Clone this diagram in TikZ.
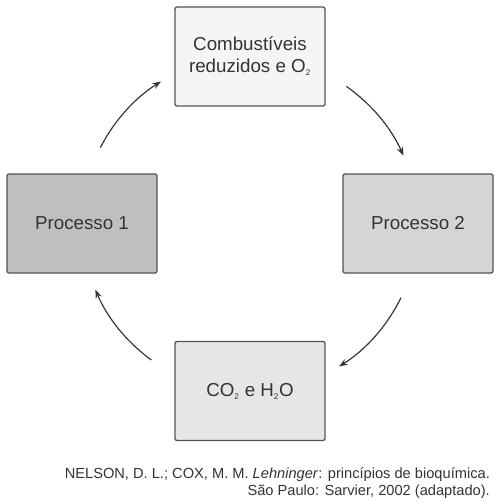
\documentclass[tikz,border=0pt]{standalone}
\usepackage{fontspec}
\setmainfont{Liberation Sans}
\usepackage{tikz}
\usetikzlibrary{arrows.meta}
\definecolor{boxline}{HTML}{555555}
\definecolor{inktext}{HTML}{333333}
\newcommand{\chsub}[1]{\textsubscript{\fontsize{7}{7}\selectfont#1}}

\begin{document}
\begin{tikzpicture}[x=0.3mm,y=0.3mm,
  stage/.style={draw=boxline,line width=0.4mm,rounded corners=0.6mm,minimum width=45mm,minimum height=29.7mm,inner sep=0pt,align=center,text=inktext,font=\fontsize{16}{18.7}\selectfont},
  cyclearrow/.style={-{Stealth[length=2.6mm,width=1.9mm]},line width=0.35mm,draw=inktext}]
\useasboundingbox (0,0) rectangle (500,503);

\node [stage,fill={rgb,255:red,244;green,245;blue,247}] (fuel) at (250,446.5) {Combustíveis\\reduzidos e O\chsub{2}};
\node [stage,fill={rgb,255:red,190;green,191;blue,193}] (proc1) at (82,279.5) {Processo 1};
\node [stage,fill={rgb,255:red,212;green,213;blue,214}] (proc2) at (418,279.5) {Processo 2};
\node [stage,fill={rgb,255:red,229;green,230;blue,231}] (waste) at (250,112) {CO\chsub{2} e H\chsub{2}O};

\coordinate (hub) at (250,279);
\draw [cyclearrow] ([shift={(153:168)}]hub) arc [radius=168, start angle=153, end angle=122];
\draw [cyclearrow] ([shift={(55:168)}]hub) arc [radius=168, start angle=55, end angle=24];
\draw [cyclearrow] ([shift={(-26:168)}]hub) arc [radius=168, start angle=-26, end angle=-58];
\draw [cyclearrow] ([shift={(234:168)}]hub) arc [radius=168, start angle=234, end angle=203];

\node [anchor=east,align=right,text=inktext,font=\fontsize{12.5}{14.6}\selectfont] (source) at (494,20) {NELSON, D. L.; COX, M. M. \textit{Lehninger}: princípios de bioquímica.\\São Paulo: Sarvier, 2002 (adaptado).};

\end{tikzpicture}
\end{document}
